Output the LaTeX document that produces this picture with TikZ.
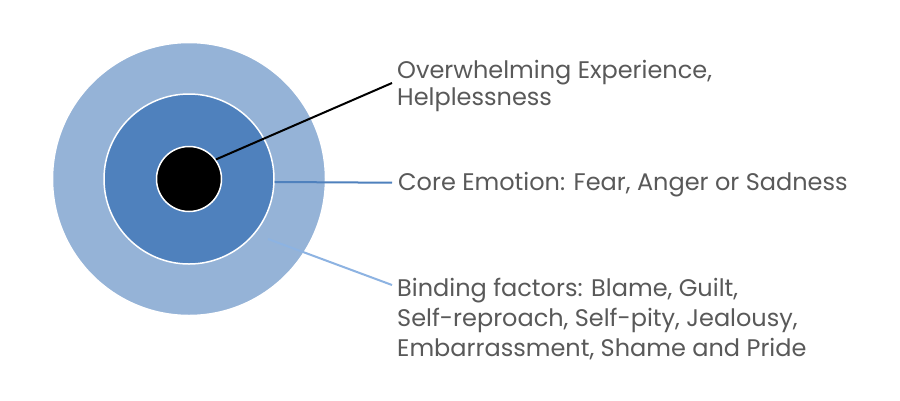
\documentclass[tikz,border=0pt]{standalone}
\usepackage{fontspec}
\setmainfont{Poppins}
\definecolor{outerblue}{HTML}{95B3D7}
\definecolor{midblue}{HTML}{4F81BD}
\definecolor{lineblue}{HTML}{8DB3E2}
\definecolor{textgray}{HTML}{595959}
\begin{document}
\begin{tikzpicture}[x=1pt,y=-1pt,
  ring/.style={circle, draw=white, line width=1.5pt, inner sep=0pt},
  label/.style={anchor=base west, inner sep=0pt, align=left, text=textgray},
  leader/.style={line width=2pt}]
\useasboundingbox[fill=white] (0,0) rectangle (900,400);
\node[ring, fill=outerblue, minimum size=273pt] (outer) at (189,179) {};
\node[ring, fill=midblue, minimum size=170pt] (mid) at (189,179) {};
\node[ring, fill=black, minimum size=65pt] (core) at (189,179) {};
\node[label, font=\fontsize{24}{27}\selectfont] (t1) at (397,105) {Overwhelming Experience,\\Helplessness};
\node[label, font=\fontsize{24}{27}\selectfont] (t2) at (398,190) {Core Emotion: Fear, Anger or Sadness};
\node[label, font=\fontsize{24}{30}\selectfont] (t3) at (397,356) {Binding factors: Blame, Guilt,\\Self-reproach, Self-pity, Jealousy,\\Embarrassment, Shame and Pride};
\coordinate (e1) at (392,83);
\coordinate (e2) at (392,182.7);
\coordinate (s3) at (268,239);
\coordinate (e3) at (392,285);
\draw[leader, black] (core.36) -- (e1);
\draw[leader, midblue] (mid.-2.5) -- (e2);
\draw[leader, lineblue] (s3) -- (e3);
\end{tikzpicture}
\end{document}
